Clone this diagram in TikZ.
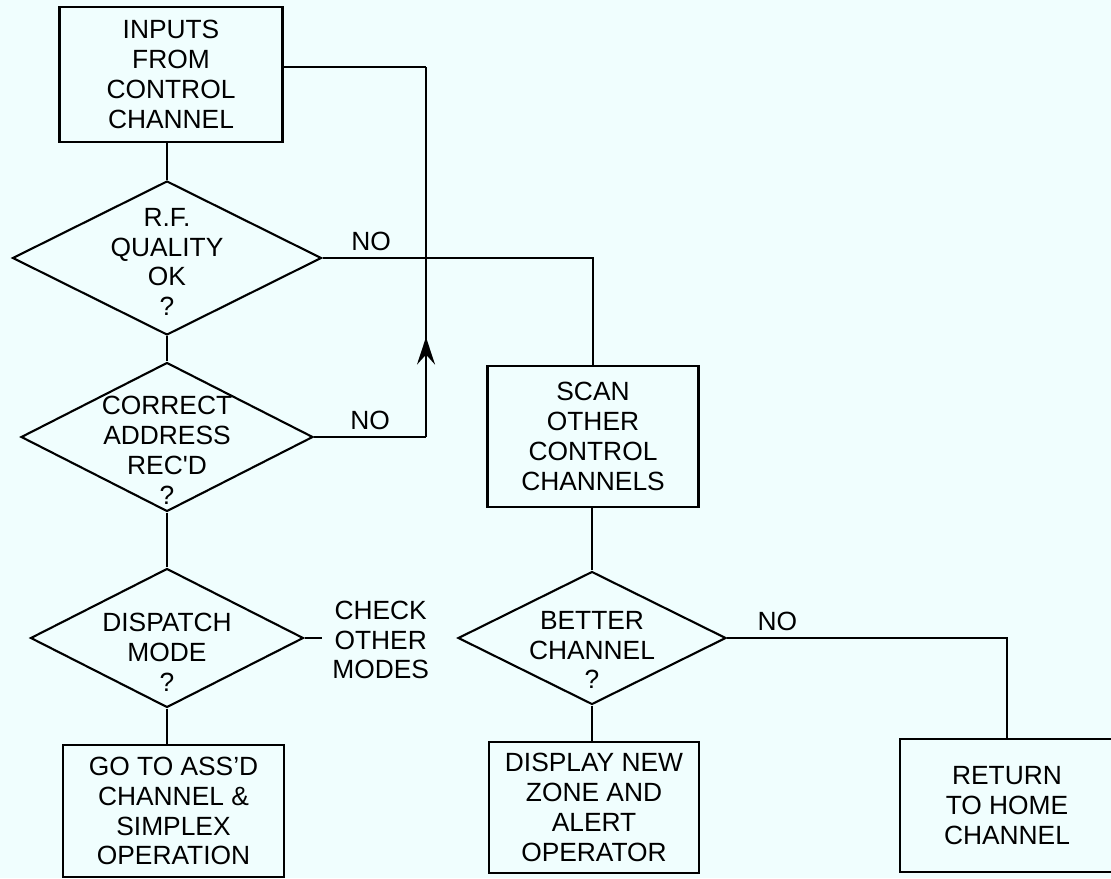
\documentclass[tikz,border=0pt]{standalone}
\usepackage{fontspec}
\setmainfont{Liberation Sans}
\usetikzlibrary{positioning,shapes.geometric,arrows.meta,decorations.markings}
\definecolor{paper}{RGB}{240,254,254}
\tikzset{
  blk/.style ={rectangle, draw, line width=1.2pt, align=center, inner sep=0pt,
               font=\fontsize{15}{17}\selectfont},
  dec/.style ={diamond, draw, line width=1.2pt, inner sep=0pt},
  dtx/.style ={align=center, inner sep=0pt, font=\fontsize{15}{17}\selectfont},
  lbl/.style ={font=\fontsize{15}{17}\selectfont},
  wire/.style={draw, line width=1.2pt},
  uparrow/.style={postaction={decorate}, decoration={markings,
               mark=at position #1 with {\arrow{Stealth[length=5.5mm,width=3.6mm,inset=2mm]}}}},
}
\begin{document}
\begin{tikzpicture}[x=0.02cm, y=-0.02cm]
\useasboundingbox (0,0) rectangle (1111,878);
\fill[paper] (0,0) rectangle (1111,878);
\clip (0,0) rectangle (1111,878);
% --- left column ---
\node[blk, minimum width=4.46cm, minimum height=2.7cm] (inp) at (171,74.5) {INPUTS\\FROM\\CONTROL\\CHANNEL};
\node[dec, minimum width=6.18cm, minimum height=3.08cm] (rf) at (167,258) {};
\node[dtx] (rft) at ([yshift=-0.08cm]rf.center) {R.F.\\QUALITY\\OK\\?};
\node[dec, minimum width=5.84cm, minimum height=2.98cm] (ca) at (167,437) {};
\node[dtx] (cat) at ([yshift=-0.26cm]ca.center) {CORRECT\\ADDRESS\\REC\textquotesingle D\\?};
\node[dec, minimum width=5.46cm, minimum height=2.78cm] (dm) at (167,638) {};
\node[dtx] (dmt) at ([yshift=-0.28cm]dm.center) {DISPATCH\\MODE\\?};
\node[lbl, align=center, anchor=west, inner sep=0pt] (chk) at (332,640) {CHECK\\OTHER\\MODES};
\node[blk, minimum width=4.42cm, minimum height=2.64cm] (go) at (173.5,811) {GO TO ASS'D\\CHANNEL \&\\SIMPLEX\\OPERATION};
% --- right part ---
\node[blk, minimum width=4.22cm, minimum height=2.82cm] (scan) at (593,436.5) {SCAN\\OTHER\\CONTROL\\CHANNELS};
\node[dec, minimum width=5.36cm, minimum height=2.66cm] (bc) at (592,638) {};
\node[dtx] (bct) at ([yshift=-0.24cm]bc.center) {BETTER\\CHANNEL\\?};
\node[blk, minimum width=4.2cm, minimum height=2.62cm] (disp) at (594,807.5) {DISPLAY NEW\\ZONE AND\\ALERT\\OPERATOR};
\node[blk, minimum width=4.28cm, minimum height=2.66cm] (ret) at (1007,805.5) {RETURN\\TO HOME\\CHANNEL};
% loop back corners and stub
\coordinate (lpb) at (426,437);
\coordinate (lpt) at (426,67);
\coordinate (stub) at (322,638);
% main flow
\draw[wire] (rf.north) -- (rf.north |- inp.south);
\draw[wire] (rf.south) -- (ca.north);
\draw[wire] (ca.south) -- (dm.north);
\draw[wire] (dm.south) -- (dm.south |- go.north);
\draw[wire] (dm.east) -- (stub);
% NO branches
\draw[wire] (rf.east) -| node[lbl, pos=0.09, above]{NO} (scan.north);
\draw[wire] (ca.east) -- node[lbl, midway, above]{NO} (lpb);
\draw[wire, uparrow=0.27] (lpb) -- (lpt);
\draw[wire] (lpt) -- (inp.east |- lpt);
\draw[wire] (bc.north) -- (bc.north |- scan.south);
\draw[wire] (bc.south) -- (bc.south |- disp.north);
\draw[wire] (bc.east) -| node[lbl, pos=0.09, above]{NO} (ret.north);
\end{tikzpicture}
\end{document}
